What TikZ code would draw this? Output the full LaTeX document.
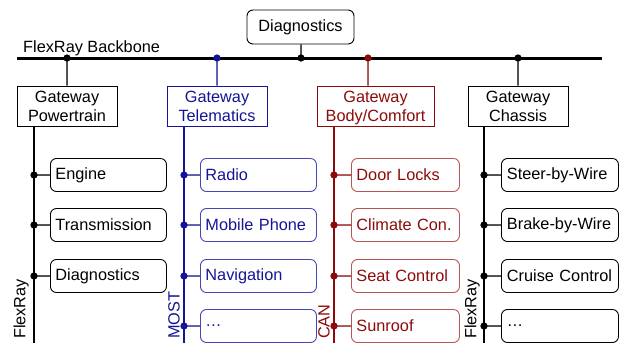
\documentclass[tikz,border=0pt]{standalone}
\usepackage{fontspec}
\setmainfont{Liberation Sans}
\usetikzlibrary{positioning}
\definecolor{mostblue}{RGB}{20,20,150}
\definecolor{mostline}{RGB}{70,70,185}
\definecolor{canred}{RGB}{140,10,10}
\definecolor{canline}{RGB}{185,85,85}
\tikzset{
  lbl/.style={font=\fontsize{16.3}{19}\selectfont},
  gwbox/.style={lbl, draw, line width=1pt, minimum width=100pt, minimum height=40pt, align=center, inner sep=2pt},
  ecubox/.style={lbl, draw, rounded corners=6pt, line width=0.9pt, minimum height=33pt, text width=106pt, inner xsep=5pt, anchor=west, align=left},
  bus/.style={line width=1.5pt},
  buslbl/.style={lbl, rotate=90, anchor=south west, inner sep=0pt}
}

\begin{document}
\begin{tikzpicture}[x=1pt,y=-1pt]
\useasboundingbox (0,0) rectangle (620,343);
% backbone
\coordinate (bbw) at (17,58);
\coordinate (bbe) at (602,58);
\draw [line width=3pt] (bbw) -- (bbe);
\node [lbl, anchor=base west, inner sep=0pt] (bbname) at (23,52) {FlexRay Backbone};

\node [lbl, draw, rounded corners=6pt, line width=0.9pt, minimum width=107pt, minimum height=34pt] (diag) at (300.5,27) {Diagnostics};
\coordinate (tapD) at (301,58);
\filldraw [line width=1.2pt] (diag.south -| tapD) -- (tapD) circle (3pt);

% gateways
\node [gwbox] (gwP) at (67,106) {Gateway\\Powertrain};
\node [gwbox, draw=mostblue, text=mostblue] (gwT) at (217,106) {Gateway\\Telematics};
\node [gwbox, draw=canred, text=canred, minimum width=117pt] (gwB) at (375.5,106) {Gateway\\\raisebox{0pt}[\height][0pt]{Body/Comfort}};
\node [gwbox] (gwC) at (518,106) {Gateway\\Chassis};

\coordinate (tapP) at (67,58);
\coordinate (tapT) at (217,58);
\coordinate (tapB) at (368,58);
\coordinate (tapC) at (518,58);
\filldraw [line width=1.2pt] (tapP) circle (3pt) -- (tapP |- gwP.north);
\filldraw [line width=1.2pt, mostblue] (tapT) circle (3pt) -- (tapT |- gwT.north);
\filldraw [line width=1.2pt, canred] (tapB) circle (3pt) -- (tapB |- gwB.north);
\filldraw [line width=1.2pt] (tapC) circle (3pt) -- (tapC |- gwC.north);

% sub-buses
\coordinate (busP) at (34,126);   \coordinate (busPend) at (34,343);
\coordinate (busT) at (184,126);  \coordinate (busTend) at (184,343);
\coordinate (busB) at (334,126);  \coordinate (busBend) at (334,343);
\coordinate (busC) at (484,126);  \coordinate (busCend) at (484,343);
\draw [bus] (busP) -- (busPend);
\draw [bus, mostblue] (busT) -- (busTend);
\draw [bus, canred] (busB) -- (busBend);
\draw [bus] (busC) -- (busCend);

\node [buslbl] (lblP) at (29,339) {FlexRay};
\node [buslbl, text=mostblue] (lblT) at (180,339) {MOST};
\node [buslbl, text=canred] (lblB) at (330,339) {CAN};
\node [buslbl] (lblC) at (480,339) {FlexRay};

% ECUs
\foreach \name/\y/\txt in {eng/175/Engine, trans/225/Transmission, pdiag/276/Diagnostics} {
  \node [ecubox, minimum width=115pt] (\name) at (50,\y) {\txt};
  \filldraw [line width=1.2pt] (busP |- \name.west) circle (3pt) -- (\name.west);
}
\foreach \name/\y/\txt in {radio/175/Radio, phone/225/Mobile Phone, navi/276/Navigation, tmore/326/\ldots} {
  \node [ecubox, minimum width=114pt, draw=mostline, text=mostblue] (\name) at (200,\y) {\txt};
  \filldraw [line width=1.2pt, mostblue] (busT |- \name.west) circle (3pt) -- (\name.west);
}
\foreach \name/\y/\txt in {door/175/Door Locks, climate/225/Climate Con., seat/276/Seat Control, roof/326/Sunroof} {
  \node [ecubox, text width=98pt, minimum width=108pt, draw=canline, text=canred] (\name) at (351,\y) {\txt};
  \filldraw [line width=1.2pt, canred] (busB |- \name.west) circle (3pt) -- (\name.west);
}
\foreach \name/\y/\txt in {steer/175/Steer-by-Wire, brake/225/Brake-by-Wire, cruise/276/Cruise Control, cmore/326/\ldots} {
  \node [ecubox, minimum width=117pt] (\name) at (501,\y) {\txt};
  \filldraw [line width=1.2pt] (busC |- \name.west) circle (3pt) -- (\name.west);
}
\end{tikzpicture}
\end{document}
